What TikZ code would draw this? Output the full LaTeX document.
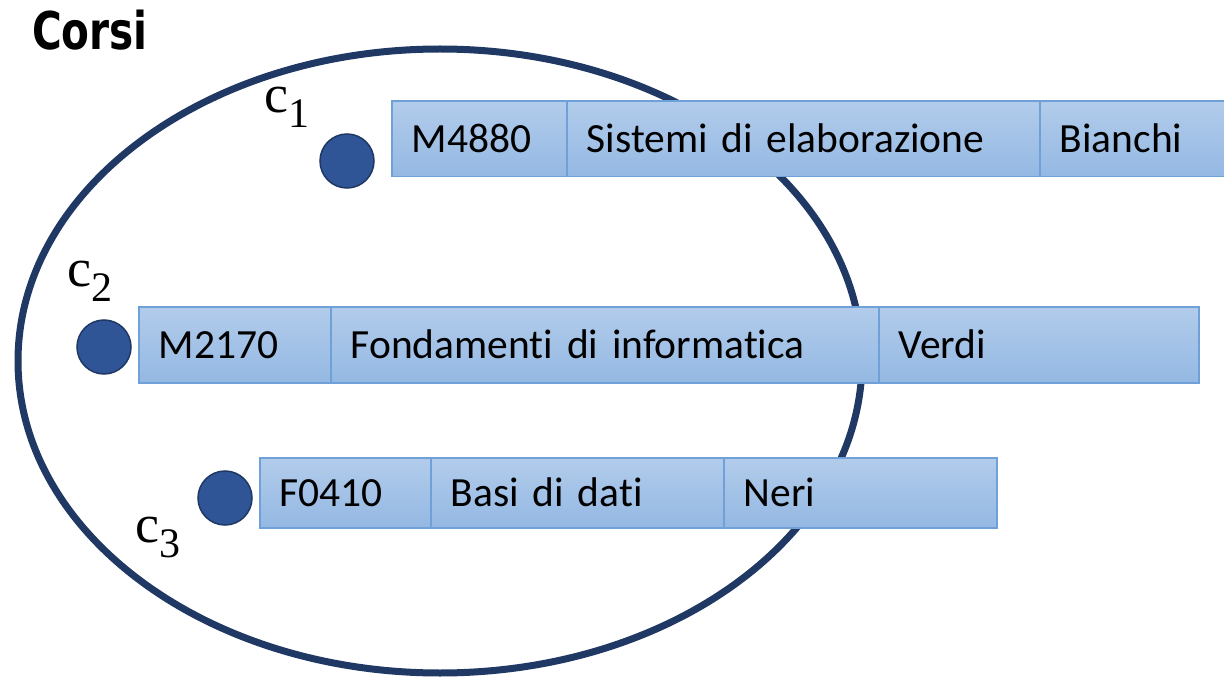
\documentclass[tikz,border=0pt]{standalone}
\usepackage{fontspec}
\setmainfont{Carlito}[RawFeature={-liga;-clig;-dlig}]
\newfontfamily\seriflab{Liberation Serif}
\newfontfamily\titlefont{DejaVu Sans}
\usetikzlibrary{shapes.geometric}
\definecolor{celltop}{HTML}{B2CCEB}
\definecolor{cellbot}{HTML}{94B8E3}
\definecolor{cellborder}{HTML}{6FA0D8}
\definecolor{dotfill}{HTML}{2F5597}
\definecolor{dotborder}{HTML}{1F3864}
\definecolor{setline}{HTML}{203864}
\tikzset{
  cell/.style={draw=cellborder, line width=1.5pt, top color=celltop, bottom color=cellbot,
    anchor=north west, inner xsep=20pt, inner ysep=0pt, align=left,
    text height=27pt, text depth=0pt, font=\fontsize{41.5}{48}\selectfont},
  dotnode/.style={circle, fill=dotfill, draw=dotborder, line width=1.5pt, minimum size=54pt, inner sep=0pt},
  setellipse/.style={draw=setline, line width=7pt},
  elabel/.style={anchor=base west, inner sep=0pt}
}
\newcommand{\elemlab}[1]{{\seriflab\fontsize{54}{60}\selectfont c\raisebox{-15pt}{\fontsize{42}{42}\selectfont #1}}}
\begin{document}
\begin{tikzpicture}[x=1pt,y=-1pt]
\useasboundingbox (0,0) rectangle (1224,679);
\clip (0,0) rectangle (1224,679);
\fill[white] (0,0) rectangle (1224,679);
% title
\node[anchor=base west, inner sep=0pt] (title) at (32,50)
  {\scalebox{0.78}[1]{\titlefont\bfseries\fontsize{52}{60}\selectfont Corsi}};
% set ellipse
\draw[setellipse] (440,361) ellipse [x radius=422, y radius=312];
% row 1
\path (391,100.5) node[cell, minimum height=75.5pt, text width=135pt] (a1) {M4880};
\path (566,100.5) node[cell, minimum height=75.5pt, text width=433pt] (a2) {Sistemi di elaborazione};
\path (1039,100.5) node[cell, minimum height=75.5pt, text width=200pt] (a3) {Bianchi};
% row 2
\path (138,306) node[cell, minimum height=76pt, text width=152pt] (b1) {M2170};
\path (330,306) node[cell, minimum height=76pt, text width=508pt] (b2) {Fondamenti di informatica};
\path (878,306) node[cell, minimum height=76pt, text width=280pt] (b3) {Verdi};
% row 3
\path (259,457) node[cell, minimum height=70pt, text width=131pt] (d1) {F0410};
\path (430,457) node[cell, minimum height=70pt, text width=253pt] (d2) {Basi di dati};
\path (723,457) node[cell, minimum height=70pt, text width=233pt] (d3) {Neri};
% element dots
\node[dotnode] (c1) at (347,161) {};
\node[dotnode] (c2) at (104,347) {};
\node[dotnode] (c3) at (225,498) {};
% element labels
\node[elabel] (l1) at (264,113) {\elemlab{1}};
\node[elabel] (l2) at (67,287) {\elemlab{2}};
\node[elabel] (l3) at (135,542) {\elemlab{3}};
\end{tikzpicture}
\end{document}
